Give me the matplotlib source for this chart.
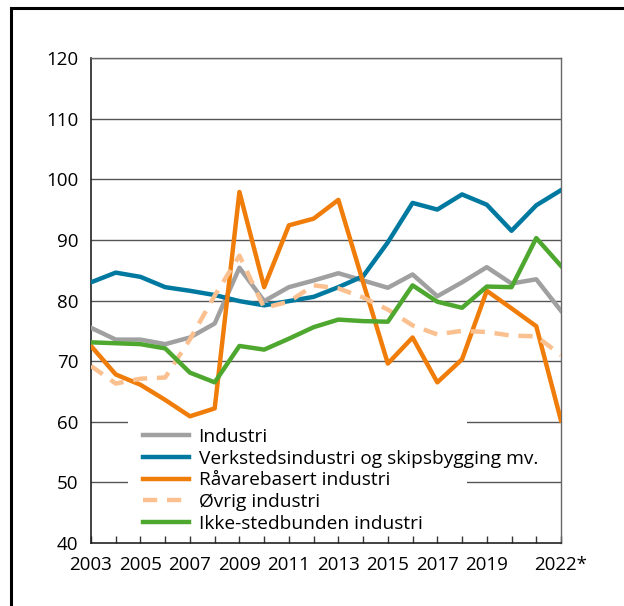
import matplotlib
matplotlib.use("Agg")
import matplotlib.pyplot as plt
from matplotlib.patches import Rectangle

plt.rcParams['font.family'] = ['Open Sans', 'DejaVu Sans']

years = list(range(2003, 2023))
industri = [75.5, 73.55, 73.55, 72.8, 73.9, 76.2, 85.4, 79.9, 82.2, 83.3, 84.5, 83.3,
            82.1, 84.3, 80.7, 83.0, 85.5, 82.8, 83.5, 78.3]
verksted = [83.0, 84.6, 83.9, 82.2, 81.6, 80.9, 79.9, 79.2, 79.9, 80.6, 82.2, 84.0,
            89.6, 96.1, 95.0, 97.5, 95.8, 91.5, 95.7, 98.2]
raavare = [72.5, 67.8, 66.1, 63.6, 60.9, 62.2, 97.9, 82.2, 92.4, 93.5, 96.6, 83.0,
           69.6, 73.9, 66.5, 70.3, 81.6, 78.7, 75.75, 60.2]
ovrig = [69.2, 66.3, 67.1, 67.3, 73.6, 80.8, 87.4, 78.8, 79.8, 82.5, 82.0, 80.5,
         78.5, 75.9, 74.4, 75.0, 74.8, 74.2, 74.1, 71.0]
ikke = [73.1, 72.95, 72.8, 72.1, 68.1, 66.5, 72.5, 71.9, 73.7, 75.6, 76.85, 76.6,
        76.5, 82.5, 79.8, 78.8, 82.3, 82.2, 90.3, 85.7]

labels = ["Industri", "Verkstedsindustri og skipsbygging mv.", "Råvarebasert industri",
          "Øvrig industri", "Ikke-stedbunden industri"]
tick_years = [2003, 2005, 2007, 2009, 2011, 2013, 2015, 2017, 2019, 2022]
tick_labels = ["2003", "2005", "2007", "2009", "2011", "2013", "2015", "2017", "2019", "2022*"]
yticks = [40, 50, 60, 70, 80, 90, 100, 110, 120]

fig = plt.figure(figsize=(6.24, 6.06), dpi=100)
ax = fig.add_axes([91/624, 63/606, 470/624, 485/606])

# outer frame
fig.patches.append(Rectangle((11/624, -0.05), 1.2, (606-8)/606 + 0.05, transform=fig.transFigure,
                             fill=False, edgecolor='black', linewidth=2.2))

for y in yticks[1:]:
    ax.axhline(y, color='#555555', linewidth=1.0, zorder=1)

lw = 3.2
ax.plot(years, industri, color='#a0a0a0', lw=lw, label=labels[0], zorder=3)
ax.plot(years, verksted, color='#0079a0', lw=lw, label=labels[1], zorder=3)
ax.plot(years, raavare, color='#f07d0a', lw=lw, label=labels[2], zorder=3)
ax.plot(years, ovrig, color='#fbc08f', lw=lw, ls=(0, (3.2, 2.2)), label=labels[3], zorder=3)
ax.plot(years, ikke, color='#4ea72e', lw=lw, label=labels[4], zorder=3)

ax.set_xlim(2003, 2022)
ax.set_ylim(40, 120)
ax.set_yticks(yticks)
ax.set_yticklabels([str(v) for v in yticks])
ax.set_xticks(years, minor=True)
ax.set_xticks(tick_years)
ax.set_xticklabels(tick_labels)
ax.tick_params(axis='x', which='both', direction='in', length=5, width=1, color='#333333',
               labelsize=13.5, pad=9)
ax.tick_params(axis='y', length=0, labelsize=13.5, pad=9)

for s in ['top', 'right']:
    ax.spines[s].set_color('#666666')
    ax.spines[s].set_linewidth(1.0)
for s in ['left', 'bottom']:
    ax.spines[s].set_color('#222222')
    ax.spines[s].set_linewidth(1.2)

# white background behind legend (covers gridlines, lies below the lines)
ax.add_patch(Rectangle(((128-91)/470, (543-535)/485), (467-128)/470, (535-416)/485,
                       transform=ax.transAxes, facecolor='white', edgecolor='none', zorder=2))

leg = ax.legend(loc='lower left', bbox_to_anchor=((143-91)/470, (543-533)/485), borderaxespad=0,
                frameon=False, fontsize=13.8, handlelength=2.4, handletextpad=0.5,
                labelspacing=0.2, borderpad=0)
leg.set_zorder(5)

fig.savefig("out.png", dpi=100)
